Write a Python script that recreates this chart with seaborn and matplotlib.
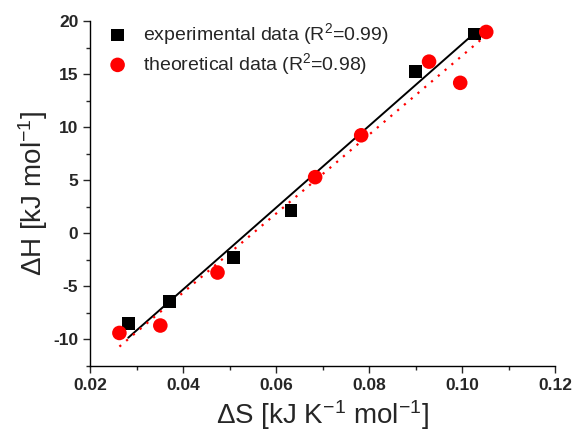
import numpy as np
import pandas as pd
import matplotlib
matplotlib.use("Agg")
import matplotlib.pyplot as plt
import seaborn as sns
from matplotlib.ticker import MultipleLocator, FormatStrFormatter

# experimental data (black squares)
exp_dS = [0.0282, 0.0371, 0.0508, 0.0632, 0.0899, 0.1026]
exp_dH = [-8.5, -6.4, -2.26, 2.14, 15.3, 18.8]

# theoretical data (red circles)
theo_dS = [0.0263, 0.0351, 0.0474, 0.0684, 0.0783, 0.0929, 0.0996, 0.1052]
theo_dH = [-9.4, -8.7, -3.7, 5.3, 9.25, 16.2, 14.2, 19.0]

exp_label = "experimental data (R$^2$=0.99)"
theo_label = "theoretical data (R$^2$=0.98)"

sns.set_style("ticks")
plt.rcParams['font.family'] = ['Liberation Sans', 'DejaVu Sans']
plt.rcParams['mathtext.fontset'] = 'custom'
plt.rcParams['mathtext.rm'] = 'Liberation Sans'
plt.rcParams['mathtext.default'] = 'regular'
plt.rcParams['axes.unicode_minus'] = False

fig = plt.figure(figsize=(5.74, 4.36), dpi=100)
ax = fig.add_axes([0.157, 0.161, 0.81, 0.79])

# fitted lines
sns.regplot(x=exp_dS, y=exp_dH, ax=ax, ci=None, scatter=False, truncate=True,
            line_kws=dict(color='black', lw=1.4, ls='-'))
sns.regplot(x=theo_dS, y=theo_dH, ax=ax, ci=None, scatter=False, truncate=True,
            line_kws=dict(color='red', lw=1.6, ls=(0, (1, 3))))

sns.scatterplot(x=exp_dS, y=exp_dH, ax=ax, marker='s', s=85, color='black',
                edgecolor='none', label=exp_label, zorder=3)
sns.scatterplot(x=theo_dS, y=theo_dH, ax=ax, marker='o', s=110, color='red',
                edgecolor='none', label=theo_label, zorder=3)

ax.set_xlim(0.02, 0.12)
ax.set_ylim(-12.5, 20)
ax.xaxis.set_major_locator(MultipleLocator(0.02))
ax.xaxis.set_minor_locator(MultipleLocator(0.01))
ax.xaxis.set_major_formatter(FormatStrFormatter('%.2f'))
ax.yaxis.set_major_locator(MultipleLocator(5))
ax.yaxis.set_minor_locator(MultipleLocator(2.5))
ax.tick_params(which='major', direction='out', length=5, width=1, labelsize=12.5)
ax.tick_params(which='minor', direction='out', length=3, width=1)
for lab in ax.get_xticklabels() + ax.get_yticklabels():
    lab.set_fontweight('bold')

sns.despine(ax=ax)
for sp in ['left', 'bottom']:
    ax.spines[sp].set_linewidth(1.0)
    ax.spines[sp].set_color('black')

ax.set_xlabel("ΔS [kJ K$^{-1}$ mol$^{-1}$]", fontsize=20, labelpad=4)
ax.set_ylabel("ΔH [kJ mol$^{-1}$]", fontsize=20, labelpad=2)

ax.legend(loc='upper left', bbox_to_anchor=(-0.012, 1.04), frameon=False,
          fontsize=14, handletextpad=0.3, borderaxespad=0.3, labelspacing=0.2)

fig.savefig("out.png", dpi=100)
